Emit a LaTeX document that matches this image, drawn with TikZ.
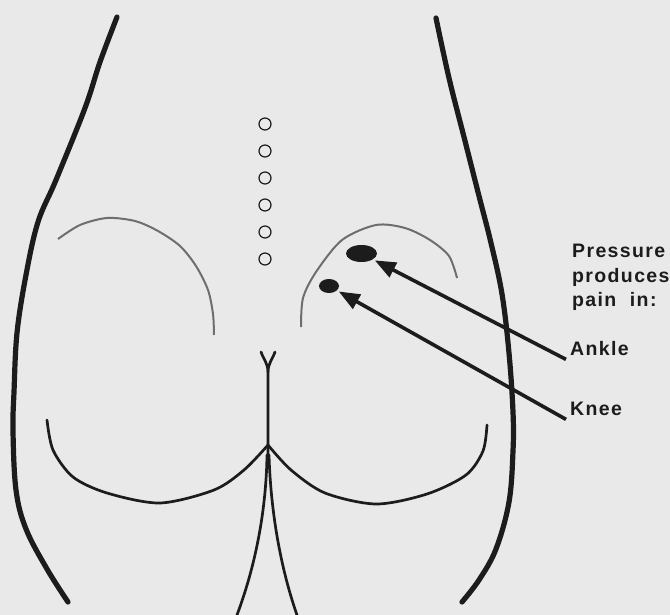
\documentclass[tikz,border=0pt]{standalone}
\usepackage{fontspec}
\usetikzlibrary{positioning,arrows.meta,shapes.geometric}
\newfontfamily\notefont{Liberation Sans}[LetterSpace=7]
\definecolor{paper}{RGB}{233,233,233}
\definecolor{ink}{RGB}{28,28,28}
\definecolor{faint}{RGB}{110,110,110}

\tikzset{
  body/.style={ink, line width=5.2pt, line cap=round, line join=round},
  crease/.style={ink, line width=2.7pt, line cap=round},
  fold/.style={faint, line width=2pt},
  hole/.style={circle, draw=ink, line width=1.2pt, minimum size=12pt, inner sep=0pt},
  spot/.style={ellipse, fill=ink, inner sep=0pt},
  pointer/.style={ink, line width=3.6pt, -{Triangle[length=21pt,width=16pt]}, shorten >=2pt},
  note/.style={font=\notefont\bfseries\fontsize{19.5}{24.5}\selectfont, text=ink, inner sep=4pt, align=left}
}

\begin{document}
\begin{tikzpicture}[x=1pt,y=-1pt]
\useasboundingbox (0,0) rectangle (670,615);
\fill[paper] (0,0) rectangle (670,615);

% outer contour of the hips
\draw[body] plot[smooth, tension=0.6] coordinates {(117,17) (100,62) (85,108) (56,180) (38,222) (26,275) (17,333) (14,392) (13,431) (16,490) (26,529) (47,569) (68,602)};
\draw[body] plot[smooth, tension=0.6] coordinates {(436,18) (449,78) (464,137) (479,196) (491,243) (502,294) (509,353) (513,412) (513,451) (509,502) (496,549) (479,580) (462,602)};

% upper folds
\draw[fold] plot[smooth] coordinates {(58,239) (80,225) (107,218) (135,221) (158,231) (180,246) (196,266) (208,290) (213,314) (214,335)};
\draw[fold] plot[smooth] coordinates {(301,327) (303,298) (316,272) (342,240) (376,225) (405,228) (430,240) (449,256) (457,278)};

% lower curves of the buttocks
\draw[crease] plot[smooth] coordinates {(47,420) (53,450) (73,477) (107,493) (160,503) (214,490) (244,470) (268,445)};
\draw[crease] plot[smooth] coordinates {(268,445) (291,470) (325,493) (376,504) (427,494) (466,475) (483,451) (487,425)};

% cleft and legs
\draw[crease] (261,352) to[out=-70,in=90] (268,372) -- (268,455);
\draw[crease] (275,352) to[out=-110,in=90] (268,372);
\draw[crease] (267,455) .. controls (266,520) and (252,575) .. (237,615);
\draw[crease] (269,455) .. controls (271,520) and (283,575) .. (297,615);

% sacral holes
\foreach \y [count=\i] in {124,151,178,205,232,259}
  \node[hole] (hole\i) at (265,\y) {};

% pressure points
\node[spot, minimum width=31pt, minimum height=17pt] (anklespot) at (361.5,253.5) {};
\node[spot, minimum width=20pt, minimum height=14pt] (kneespot) at (329,286) {};

% labels
\node[note, anchor=north west] (pressure) at (568,240) {Pressure\\produces\\pain~~in:};
\node[note, anchor=base west] (ankle) at (566,355) {Ankle};
\node[note, anchor=base west] (knee) at (566,415) {Knee};

\draw[pointer] (ankle.south west) -- (anklespot);
\draw[pointer] (knee.south west) -- (kneespot);
\end{tikzpicture}
\end{document}
